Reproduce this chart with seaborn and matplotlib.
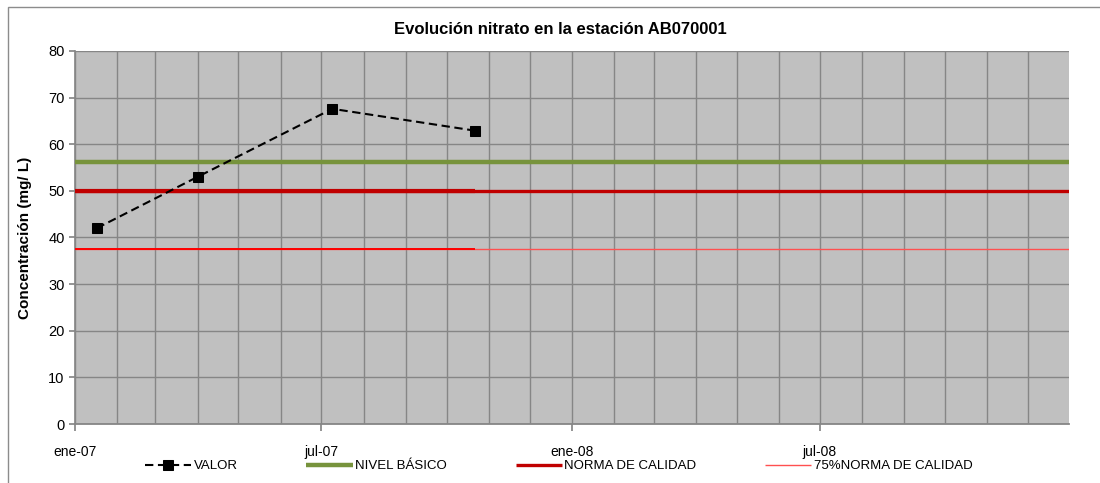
import matplotlib
matplotlib.use("Agg")
import matplotlib.pyplot as plt
import matplotlib.dates as mdates
from matplotlib.ticker import FuncFormatter, MultipleLocator
from matplotlib.patches import Rectangle
import seaborn as sns
import pandas as pd
import numpy as np

# ---- data ----
fechas = ["2007-01-17", "2007-04-01", "2007-07-09", "2007-10-22"]
valor = [42.0, 53.0, 67.6, 62.9]
nivel_basico = 56.2
norma_calidad = 50.0
norma_75 = 37.5
eje_inicio = "2007-01-01"
eje_fin = "2008-12-31"
titulo = "Evolución nitrato en la estación AB070001"
ylabel = "Concentración (mg/ L)"
meses_es = {1: "ene", 7: "jul"}

sns.set_theme(style="white")
plt.rcParams["font.family"] = ["Liberation Sans", "DejaVu Sans"]
plt.rcParams["text.color"] = "black"
plt.rcParams["axes.labelcolor"] = "black"

df = pd.DataFrame({"fecha": pd.to_datetime(fechas), "valor": valor})
x0, x1 = pd.to_datetime(eje_inicio), pd.to_datetime(eje_fin)
xlast = df["fecha"].iloc[-1]

fig = plt.figure(figsize=(11, 4.83), dpi=100)
fig.patches.append(Rectangle((8 / 1100, -0.1), 1.2, 1 - 7 / 483 + 0.1,
                             transform=fig.transFigure, fill=False,
                             edgecolor="#8c8c8c", linewidth=1))
ax = fig.add_axes([75 / 1100, 59 / 483, (1069 - 75) / 1100, (424 - 51) / 483])
ax.set_facecolor("#C0C0C0")

ax.plot([x0, x1], [nivel_basico] * 2, color="#77933C", lw=3.2, solid_capstyle="butt", zorder=3,
        label="NIVEL BÁSICO")
ax.plot([x0, x1], [norma_calidad] * 2, color="#C00000", lw=2.4, solid_capstyle="butt", zorder=3,
        label="NORMA DE CALIDAD")
ax.plot([x0, xlast], [norma_calidad - 0.12] * 2, color="#C00000", lw=3.0, solid_capstyle="butt", zorder=3)
ax.plot([x0, x1], [norma_75] * 2, color="#FF5050", lw=1.0, solid_capstyle="butt", zorder=3,
        label="75%NORMA DE CALIDAD")
ax.plot([x0, xlast], [norma_75] * 2, color="#FF0000", lw=1.4, solid_capstyle="butt", zorder=3)

sns.lineplot(data=df, x="fecha", y="valor", ax=ax, color="black", lw=1.5,
             linestyle=(0, (4, 2.2)), marker="s", markersize=6.5, markeredgecolor="black",
             markerfacecolor="black", zorder=5, label="VALOR")

ax.set_xlim(x0, x1)
ax.set_ylim(0, 80)
ax.yaxis.set_major_locator(MultipleLocator(10))
ax.xaxis.set_major_locator(mdates.MonthLocator(bymonth=[1, 7]))
ax.xaxis.set_minor_locator(mdates.MonthLocator())
ax.xaxis.set_major_formatter(FuncFormatter(
    lambda v, p: f"{meses_es[mdates.num2date(v).month]}-{mdates.num2date(v).strftime('%y')}"))

ax.grid(True, which="both", axis="x", color="#868686", lw=1)
ax.grid(True, which="major", axis="y", color="#868686", lw=1)
ax.set_axisbelow(True)
for s in ["top", "right"]:
    ax.spines[s].set_visible(False)
ax.spines["left"].set_color("#868686")
ax.spines["bottom"].set_color("#868686")
ax.spines["bottom"].set_linewidth(1.3)
ax.tick_params(axis="x", which="major", direction="out", length=5, color="#868686",
               labelsize=10, pad=10, bottom=True, labelcolor="black")
ax.tick_params(axis="x", which="minor", length=0)
ax.tick_params(axis="y", direction="out", length=4, color="#868686", labelsize=10.5, left=True,
               labelcolor="black")

ax.set_xlabel("")
ax.set_ylabel(ylabel, fontsize=11, fontweight="bold", labelpad=12, color="black")
fig.text(0.509, 1 - 30 / 483, titulo, ha="center", va="center", fontsize=12, fontweight="bold",
         color="black")

handles, labels = ax.get_legend_handles_labels()
order = [labels.index(l) for l in ["VALOR", "NIVEL BÁSICO", "NORMA DE CALIDAD", "75%NORMA DE CALIDAD"]]
if ax.get_legend():
    ax.get_legend().remove()
fig.legend([handles[i] for i in order], [labels[i] for i in order], loc="center",
           bbox_to_anchor=(0.508, 1 - 466 / 483), ncol=4, frameon=False, fontsize=9.5,
           handlelength=3.5, handletextpad=0.2, columnspacing=5.2, borderaxespad=0,
           labelcolor="black")

fig.savefig("out.png", dpi=100)
